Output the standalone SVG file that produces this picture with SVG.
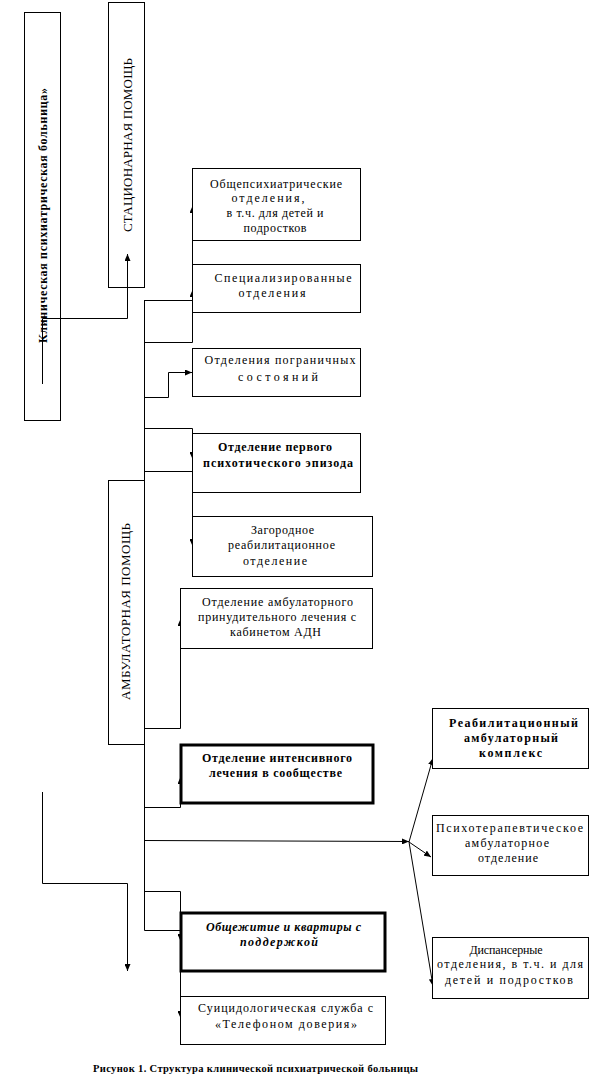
<svg xmlns="http://www.w3.org/2000/svg" width="590" height="1081" viewBox="0 0 590 1081">
<style>
  .box{fill:#fff;stroke:#000;stroke-width:1}
  .thick{fill:#fff;stroke:#000;stroke-width:3}
  .ln{fill:none;stroke:#000;stroke-width:1}
  text{font-family:"Liberation Serif","Times New Roman",serif;font-size:12px;fill:#000;text-anchor:middle}
  .b{font-weight:bold}
  .bi{font-weight:bold;font-style:italic}
  .v{font-size:13px}
  .cap{font-weight:bold;font-size:10.5px}
</style>
<defs>
  <marker id="ah" markerWidth="7" markerHeight="6" refX="7" refY="3" orient="auto" markerUnits="userSpaceOnUse">
    <path d="M0,0 L7,3 L0,6 z" fill="#000"/>
  </marker>
</defs>

<g id="hospital">
  <rect class="box" x="24.5" y="12.5" width="36" height="408"/>
  <text class="b" transform="translate(47,215.5) rotate(-90)" textLength="255" lengthAdjust="spacing">Клиническая психиатрическая больница»</text>
</g>
<g id="stationary">
  <rect class="box" x="108.5" y="2.5" width="36" height="285"/>
  <text class="v" transform="translate(131.5,145) rotate(-90)" textLength="174" lengthAdjust="spacing">СТАЦИОНАРНАЯ ПОМОЩЬ</text>
</g>
<g id="ambulatory">
  <rect class="box" x="108.5" y="480.5" width="36" height="264"/>
  <text class="v" transform="translate(129.5,611.5) rotate(-90)" textLength="177" lengthAdjust="spacing">АМБУЛАТОРНАЯ ПОМОЩЬ</text>
</g>

<g id="connectors">
  <polyline class="ln" points="42.5,384 42.5,318.5 127.5,318.5 127.5,254" marker-end="url(#ah)"/>
  <line class="ln" x1="144.5" y1="300" x2="144.5" y2="930.5"/>
  <polyline class="ln" points="144.5,300.5 192.5,300.5 192.5,206" marker-end="url(#ah)"/>
  <polyline class="ln" points="144.5,342.5 192.5,342.5 192.5,290" marker-end="url(#ah)"/>
  <polyline class="ln" points="144.5,397.5 168.5,397.5 168.5,372.5 192,372.5" marker-end="url(#ah)"/>
  <polyline class="ln" points="144.5,428.5 192.5,428.5 192.5,459" marker-end="url(#ah)"/>
  <polyline class="ln" points="144.5,471.5 192.5,471.5 192.5,546" marker-end="url(#ah)"/>
  <polyline class="ln" points="144.5,728.5 180.5,728.5 180.5,619" marker-end="url(#ah)"/>
  <polyline class="ln" points="144.5,807.5 180.5,807.5 180.5,777" marker-end="url(#ah)"/>
  <line class="ln" x1="144.5" y1="840.5" x2="409" y2="841.5" marker-end="url(#ah)"/>
  <line class="ln" x1="409" y1="842" x2="433" y2="758" marker-end="url(#ah)"/>
  <line class="ln" x1="409" y1="842" x2="431" y2="857" marker-end="url(#ah)"/>
  <line class="ln" x1="409" y1="842" x2="433" y2="986" marker-end="url(#ah)"/>
  <polyline class="ln" points="144.5,891.5 180.5,891.5 180.5,941" marker-end="url(#ah)"/>
  <polyline class="ln" points="144.5,930.5 180.5,930.5 180.5,1018" marker-end="url(#ah)"/>
  <polyline class="ln" points="42.5,792 42.5,883.5 127.5,883.5 127.5,971" marker-end="url(#ah)"/>
</g>

<g id="general">
  <rect class="box" x="192.5" y="168.5" width="168" height="72"/>
  <text x="276" y="188" textLength="132" lengthAdjust="spacing">Общепсихиатрические</text>
  <text x="268" y="202" textLength="73" lengthAdjust="spacing">отделения,</text>
  <text x="275" y="217" textLength="97" lengthAdjust="spacing">в т.ч. для детей и</text>
  <text x="275" y="232" textLength="63" lengthAdjust="spacing">подростков</text>
</g>
<g id="specialized">
  <rect class="box" x="192.5" y="264.5" width="168" height="48"/>
  <text x="283" y="282" textLength="137" lengthAdjust="spacing">Специализированные</text>
  <text x="272" y="297" textLength="67" lengthAdjust="spacing">отделения</text>
</g>
<g id="borderline">
  <rect class="box" x="192.5" y="348.5" width="168" height="48"/>
  <text x="280" y="364" textLength="151" lengthAdjust="spacing">Отделения пограничных</text>
  <text x="278" y="381" textLength="80" lengthAdjust="spacing">состояний</text>
</g>
<g id="first-episode">
  <rect class="box" x="192.5" y="433.5" width="168" height="59"/>
  <text class="b" x="275" y="451" textLength="114" lengthAdjust="spacing">Отделение первого</text>
  <text class="b" x="278" y="467" textLength="150" lengthAdjust="spacing">психотического эпизода</text>
</g>
<g id="country">
  <rect class="box" x="192.5" y="516.5" width="180" height="60"/>
  <text x="282.5" y="534" textLength="63" lengthAdjust="spacing">Загородное</text>
  <text x="281.5" y="549" textLength="107" lengthAdjust="spacing">реабилитационное</text>
  <text x="275" y="565" textLength="64" lengthAdjust="spacing">отделение</text>
</g>
<g id="compulsory">
  <rect class="box" x="180.5" y="588.5" width="192" height="60"/>
  <text x="277.5" y="606" textLength="151" lengthAdjust="spacing">Отделение амбулаторного</text>
  <text x="277" y="621" textLength="158" lengthAdjust="spacing">принудительного лечения с</text>
  <text x="275.5" y="636" textLength="91" lengthAdjust="spacing">кабинетом АДН</text>
</g>
<g id="intensive">
  <rect class="thick" x="181" y="745" width="192" height="58"/>
  <text class="b" x="277" y="762" textLength="150" lengthAdjust="spacing">Отделение интенсивного</text>
  <text class="b" x="275.5" y="777" textLength="133" lengthAdjust="spacing">лечения в сообществе</text>
</g>
<g id="hostels">
  <rect class="thick" x="181" y="913" width="204" height="58"/>
  <text class="bi" x="283.5" y="931" textLength="155" lengthAdjust="spacing">Общежитие и квартиры с</text>
  <text class="bi" x="279" y="946" textLength="78" lengthAdjust="spacing">поддержкой</text>
</g>
<g id="suicide">
  <rect class="box" x="180.5" y="996.5" width="205" height="48"/>
  <text x="285.5" y="1012" textLength="175" lengthAdjust="spacing">Суицидологическая служба с</text>
  <text x="286" y="1028" textLength="142" lengthAdjust="spacing">«Телефоном доверия»</text>
</g>
<g id="rehab">
  <rect class="box" x="432.5" y="708.5" width="156" height="60"/>
  <text class="b" x="513.5" y="727" textLength="129" lengthAdjust="spacing">Реабилитационный</text>
  <text class="b" x="511" y="742" textLength="94" lengthAdjust="spacing">амбулаторный</text>
  <text class="b" x="510.5" y="757" textLength="63" lengthAdjust="spacing">комплекс</text>
</g>
<g id="psychotherapy">
  <rect class="box" x="432.5" y="815.5" width="156" height="60"/>
  <text x="509.5" y="832" textLength="147" lengthAdjust="spacing">Психотерапевтическое</text>
  <text x="507" y="847" textLength="84" lengthAdjust="spacing">амбулаторное</text>
  <text x="508" y="862" textLength="60" lengthAdjust="spacing">отделение</text>
</g>
<g id="dispensary">
  <rect class="box" x="432.5" y="937.5" width="156" height="61"/>
  <text x="506" y="954" textLength="73" lengthAdjust="spacing">Диспансерные</text>
  <text x="510" y="968" textLength="146" lengthAdjust="spacing">отделения, в т.ч. и для</text>
  <text x="509" y="984" textLength="128" lengthAdjust="spacing">детей и подростков</text>
</g>
<g id="caption">
  <text class="cap" x="255.5" y="1072" textLength="325" lengthAdjust="spacing">Рисунок 1. Структура клинической психиатрической больницы</text>
</g>
</svg>
